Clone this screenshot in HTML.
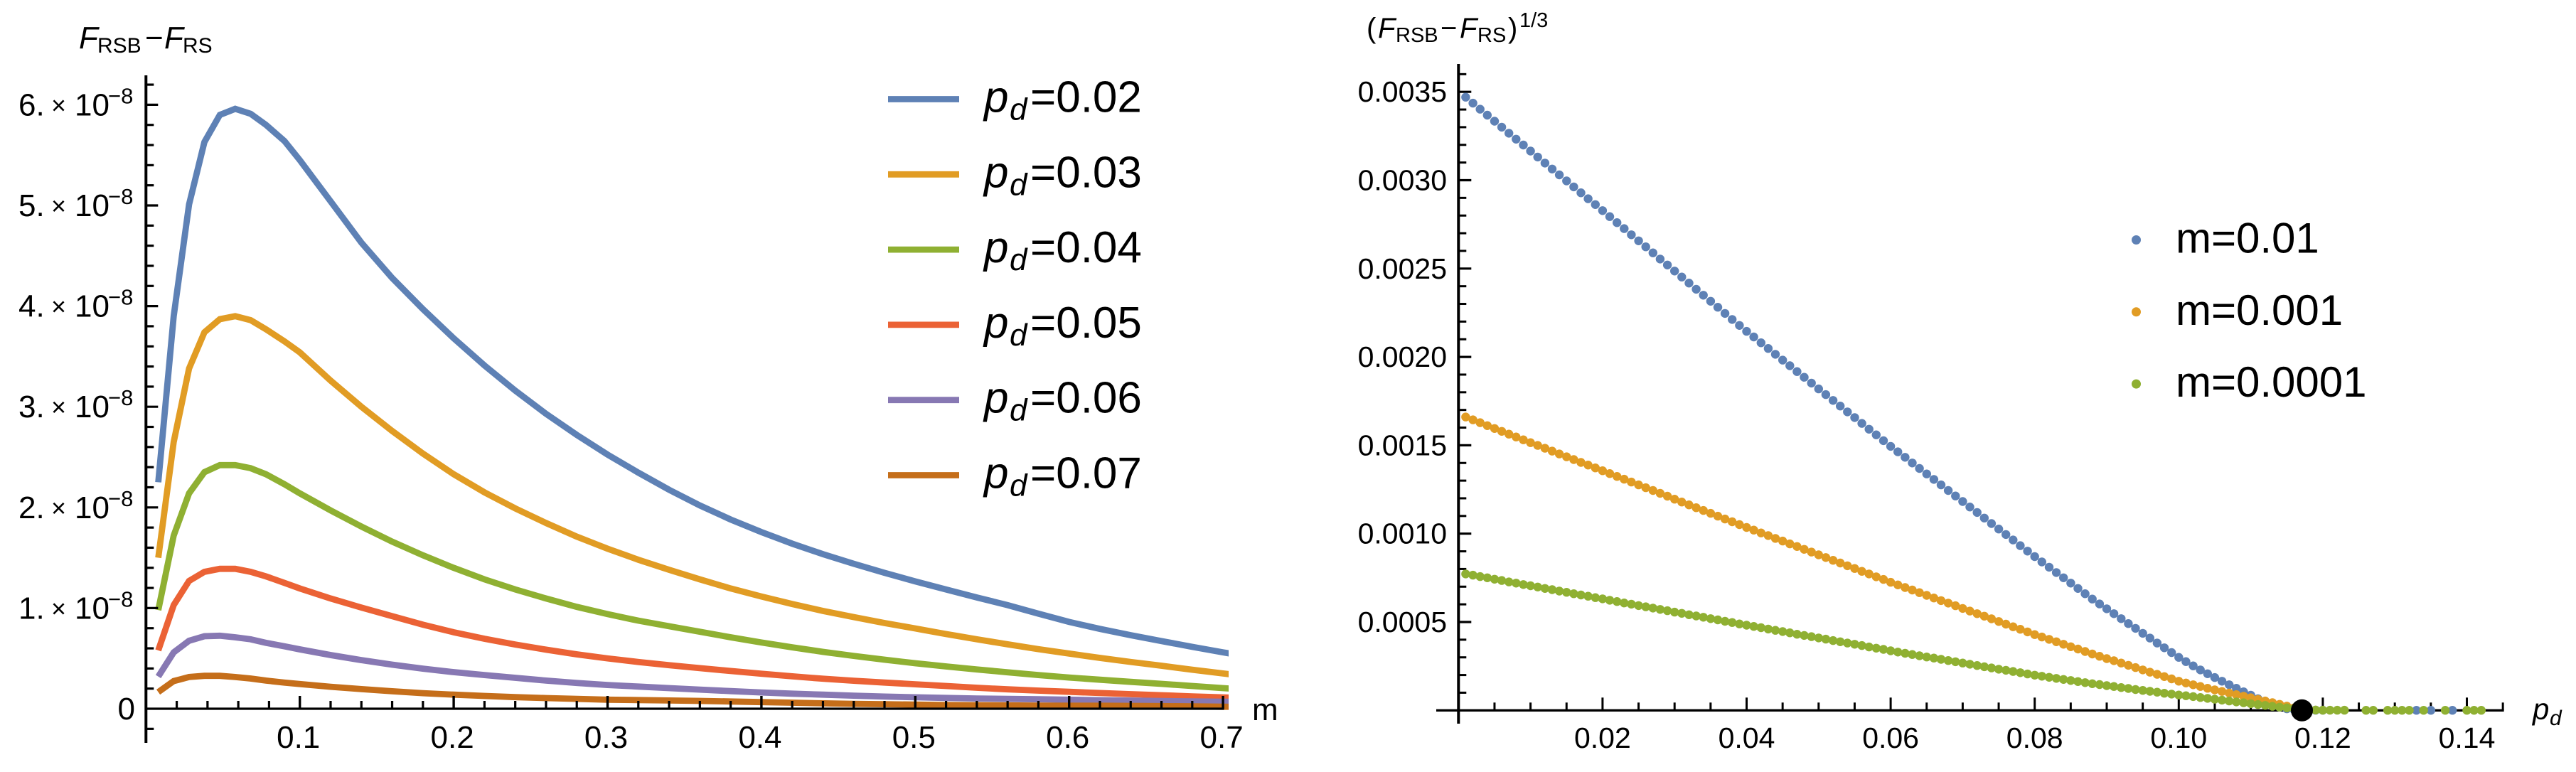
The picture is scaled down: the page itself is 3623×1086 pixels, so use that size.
<!DOCTYPE html>
<html lang="en">
<head>
<meta charset="utf-8">
<title>RSB free energy difference plots</title>
<style>
html,body{margin:0;padding:0;background:#fff;width:3623px;height:1086px;overflow:hidden}
svg{display:block;font-family:"Liberation Sans",Arial,sans-serif;fill:#000}
.it{font-style:italic}
</style>
</head>
<body>
<svg id="figure" xmlns="http://www.w3.org/2000/svg" width="3623" height="1086" viewBox="0 0 3623 1086">
  <defs><clipPath id="left-clip"><rect x="190" y="90" width="1538" height="960"/></clipPath></defs>
  <g id="left-chart">
    <g id="left-lines" clip-path="url(#left-clip)"></g>
    <g id="left-axes"></g>
    <text font-size="44"><tspan class="it" x="111" y="68">F</tspan><tspan font-size="30" x="137" y="74">RSB</tspan><tspan x="204" y="68">−</tspan><tspan class="it" x="231" y="68">F</tspan><tspan font-size="30" x="257" y="74">RS</tspan></text>
    <text font-size="44" x="1761" y="1013">m</text>
    <g id="left-legend"></g>
  </g>
  <g id="right-chart">
    <g id="right-axes"></g>
    <g id="right-points"></g>
    <text font-size="40"><tspan x="1922" y="53">(</tspan><tspan class="it" x="1938" y="53">F</tspan><tspan font-size="29" x="1963" y="59">RSB</tspan><tspan x="2026" y="53">−</tspan><tspan class="it" x="2053" y="53">F</tspan><tspan font-size="29" x="2078" y="59">RS</tspan><tspan x="2121" y="53">)</tspan><tspan font-size="29" x="2137" y="38">1/3</tspan></text>
    <text font-size="42"><tspan class="it" x="3562" y="1012">p</tspan><tspan class="it" font-size="30" x="3586" y="1020">d</tspan></text>
    <g id="right-legend"></g>
  </g>
</svg>
<script>
// ---------- left chart data ----------
const mValues = [0.008,0.018,0.028,0.038,0.048,0.058,0.068,0.078,0.09,0.1,0.12,0.14,0.16,0.18,0.2,0.22,0.24,0.26,0.28,0.3,0.32,0.34,0.36,0.38,0.4,0.42,0.44,0.46,0.48,0.5,0.52,0.54,0.56,0.58,0.6,0.62,0.64,0.66,0.68,0.7,0.72];
const seriesP02 = [2.25,3.9,5.01,5.63,5.9,5.96,5.91,5.8,5.64,5.45,5.04,4.63,4.28,3.97,3.68,3.41,3.16,2.93,2.72,2.525,2.345,2.175,2.02,1.88,1.755,1.64,1.535,1.44,1.35,1.265,1.185,1.105,1.03,0.945,0.862,0.793,0.73,0.672,0.615,0.56,0.51];
const seriesP03 = [1.5,2.65,3.38,3.74,3.87,3.9,3.86,3.77,3.65,3.54,3.26,3.0,2.76,2.535,2.33,2.15,1.99,1.845,1.71,1.59,1.48,1.38,1.285,1.195,1.115,1.04,0.972,0.91,0.852,0.797,0.742,0.69,0.64,0.592,0.548,0.505,0.465,0.427,0.388,0.35,0.315];
const seriesP04 = [0.98,1.72,2.14,2.35,2.42,2.42,2.39,2.33,2.23,2.14,1.97,1.81,1.66,1.525,1.4,1.285,1.185,1.095,1.012,0.94,0.875,0.82,0.765,0.71,0.658,0.61,0.565,0.525,0.487,0.452,0.42,0.39,0.362,0.335,0.31,0.288,0.267,0.247,0.226,0.205,0.185];
const seriesP05 = [0.58,1.03,1.27,1.36,1.39,1.39,1.36,1.315,1.25,1.195,1.095,1.005,0.92,0.835,0.76,0.695,0.638,0.587,0.54,0.5,0.465,0.433,0.403,0.375,0.348,0.322,0.298,0.278,0.26,0.243,0.226,0.208,0.193,0.18,0.168,0.156,0.145,0.134,0.123,0.113,0.1];
const seriesP06 = [0.32,0.56,0.675,0.72,0.725,0.71,0.69,0.655,0.62,0.59,0.533,0.483,0.438,0.398,0.364,0.335,0.307,0.28,0.256,0.236,0.22,0.205,0.19,0.175,0.162,0.15,0.14,0.13,0.121,0.114,0.107,0.102,0.098,0.094,0.09,0.085,0.081,0.077,0.073,0.07,0.066];
const seriesP07 = [0.165,0.275,0.315,0.327,0.327,0.315,0.3,0.28,0.26,0.245,0.218,0.195,0.174,0.155,0.14,0.127,0.115,0.106,0.098,0.09,0.086,0.082,0.078,0.072,0.066,0.06,0.054,0.049,0.045,0.041,0.037,0.035,0.033,0.031,0.03,0.03,0.028,0.026,0.023,0.02,0.018];
const lineSeries = [seriesP02,seriesP03,seriesP04,seriesP05,seriesP06,seriesP07];
const lineLabels = ['0.02','0.03','0.04','0.05','0.06','0.07'];
const lineColors = ['#5e81b5','#e19c24','#8fb032','#eb6235','#8778b3','#c56e1a'];
const leftXMajor = [0.1,0.2,0.3,0.4,0.5,0.6,0.7];
const leftXLabels = ['0.1','0.2','0.3','0.4','0.5','0.6','0.7'];
const leftXMinor = [0.02,0.04,0.06,0.08,0.12,0.14,0.16,0.18,0.22,0.24,0.26,0.28,0.32,0.34,0.36,0.38,0.42,0.44,0.46,0.48,0.52,0.54,0.56,0.58,0.62,0.64,0.66,0.68];
const leftYMajor = [1,2,3,4,5,6];
const leftYLabels = ['1.','2.','3.','4.','5.','6.'];
const leftYMinor = [-0.2,0.2,0.4,0.6,0.8,1.2,1.4,1.6,1.8,2.2,2.4,2.6,2.8,3.2,3.4,3.6,3.8,4.2,4.4,4.6,4.8,5.2,5.4,5.6,5.8,6.2];

// ---------- right chart data (values in units of 1e-6, pd in units of 0.001) ----------
const pdValues = [1,2,3,4,5,6,7,8,9,10,11,12,13,14,15,16,17,18,19,20,21,22,23,24,25,26,27,28,29,30,31,32,33,34,35,36,37,38,39,40,41,42,43,44,45,46,47,48,49,50,51,52,53,54,55,56,57,58,59,60,61,62,63,64,65,66,67,68,69,70,71,72,73,74,75,76,77,78,79,80,81,82,83,84,85,86,87,88,89,90,91,92,93,94,95,96,97,98,99,100,101,102,103,104,105,106,107,108,109,110,111,112,113,114,115,116,117,118,119,120,121,122,123,124,125,126,127,128,129,130,131,132,133,134,135,136,137,138,139,140,141,142];
const seriesM01 = [3470,3436,3402,3368,3334,3300,3266,3232,3199,3165,3131,3097,3063,3030,2996,2962,2929,2895,2862,2828,2794,2760,2726,2691,2657,2623,2589,2554,2520,2486,2452,2418,2383,2349,2315,2281,2246,2212,2178,2145,2113,2080,2048,2015,1982,1950,1917,1885,1852,1819,1787,1754,1722,1689,1657,1624,1591,1559,1526,1494,1463,1432,1400,1369,1338,1307,1276,1244,1213,1182,1151,1120,1088,1057,1026,995,964,932,901,870,840,810,780,750,720,690,660,630,602,575,547,519,491,464,436,409,381,354,327,300,276,252,229,207,186,165,145,125,105,86,66,47,31,18,9,4,2,1,1,1,null,null,null,null,null,null,null,null,null,null,null,null,0.5,null,0.5,null,null,0.5,null,null,null,null];
const seriesM001 = [1660,1644,1628,1611,1595,1579,1563,1547,1531,1515,1499,1483,1467,1451,1435,1419,1403,1388,1372,1356,1340,1324,1308,1292,1276,1260,1244,1228,1212,1195,1179,1163,1147,1131,1115,1099,1083,1067,1051,1035,1020,1004,989,973,958,942,927,911,896,880,865,849,834,818,803,787,772,756,741,725,710,695,681,666,651,636,621,607,592,577,562,547,533,518,503,488,473,459,444,429,415,402,388,374,360,347,333,319,306,293,281,268,255,242,229,216,204,191,178,165,155,145,135,125,116,107,98,89,80,71,62,53,44,34,24,14,6,null,null,null,null,null,null,null,null,null,null,null,null,null,null,null,null,null,null,null,null,null,null,null,null,null];
const seriesM0001 = [772,765,757,750,742,735,727,720,712,705,698,690,683,675,668,660,653,646,638,631,623,616,608,601,593,586,579,571,564,556,549,541,534,527,519,512,504,497,489,482,475,468,460,453,446,439,431,424,417,410,403,395,388,381,374,367,359,352,345,337,330,323,316,309,302,296,289,282,275,268,261,254,247,240,233,227,220,213,206,199,193,187,181,175,169,163,157,151,146,140,135,129,124,118,113,108,103,97,92,87,83,78,73,68,63,58,53,48,43,38,33,28,23,18,14,10,7,4,2,1,1,1,1,null,null,0.5,0.5,null,0.5,0.5,0.5,0.5,null,0.5,null,null,0.5,null,null,0.5,0.5,0.5];
const pointSeries = [seriesM01,seriesM001,seriesM0001];
const pointLabels = ['m=0.01','m=0.001','m=0.0001'];
const pointColors = ['#5e81b5','#e19c24','#8fb032'];
const criticalPd = 0.1171;
const criticalValue = 0;
const rightXMajor = [0.02,0.04,0.06,0.08,0.1,0.12,0.14];
const rightXLabels = ['0.02','0.04','0.06','0.08','0.10','0.12','0.14'];
const rightXMinor = [0.005,0.01,0.015,0.025,0.03,0.035,0.045,0.05,0.055,0.065,0.07,0.075,0.085,0.09,0.095,0.105,0.11,0.115,0.125,0.13,0.135,0.145];
const rightYMajor = [0.0005,0.001,0.0015,0.002,0.0025,0.003,0.0035];
const rightYLabels = ['0.0005','0.0010','0.0015','0.0020','0.0025','0.0030','0.0035'];
const rightYMinor = [0.0001,0.0002,0.0003,0.0004,0.0006,0.0007,0.0008,0.0009,0.0011,0.0012,0.0013,0.0014,0.0016,0.0017,0.0018,0.0019,0.0021,0.0022,0.0023,0.0024,0.0026,0.0027,0.0028,0.0029,0.0031,0.0032,0.0033,0.0034,0.0036];

// ---------- axis functions ----------
const xLeft = m => 205.3 + 2164 * m;
const yLeft = v => 997 - 141.6 * v;
const xRight = p => 2051.3 + 10130 * p;
const yRight = v => 999.3 - 248600 * v;

const NS = 'http://www.w3.org/2000/svg';
function make(tag, attrs, parent, txt) {
  const n = document.createElementNS(NS, tag);
  for (const k in attrs) n.setAttribute(k, attrs[k]);
  if (txt !== undefined) n.textContent = txt;
  parent.appendChild(n);
  return n;
}
const $ = id => document.getElementById(id);

// ---------- left lines ----------
lineSeries.forEach((vals, s) => {
  const pts = vals.map((v, i) => xLeft(mValues[i]).toFixed(1) + ',' + yLeft(v).toFixed(1)).join(' ');
  const line = make('polyline', {points: pts, fill: 'none', stroke: lineColors[s], 'stroke-width': 8.8, 'stroke-linejoin': 'miter', 'stroke-linecap': 'butt'}, $('left-lines'));
  
  
});

// ---------- left axes ----------
const leftAxes = $('left-axes');
const leftYAxis = make('line', {x1: xLeft(0), x2: xLeft(0), y1: 106, y2: 1045, stroke: '#000', 'stroke-width': 4}, leftAxes);


const leftXAxis = make('line', {x1: xLeft(0), x2: xLeft(0.7) + 1.5, y1: yLeft(0), y2: yLeft(0), stroke: '#000', 'stroke-width': 3.3}, leftAxes);


leftXMajor.forEach((v, i) => {
  const t = make('line', {x1: xLeft(v), x2: xLeft(v), y1: yLeft(0), y2: yLeft(0) - 18, stroke: '#000', 'stroke-width': 3.4}, leftAxes);
  
  
  const l = make('text', {x: xLeft(v) - 2, y: 1052, 'font-size': 44, 'text-anchor': 'middle'}, leftAxes, leftXLabels[i]);
  
  
});
leftXMinor.forEach(v => {
  const t = make('line', {x1: xLeft(v), x2: xLeft(v), y1: yLeft(0), y2: yLeft(0) - 11, stroke: '#000', 'stroke-width': 3.2}, leftAxes);
  
  
});
leftYMajor.forEach((v, i) => {
  const y = yLeft(v);
  const t = make('line', {x1: xLeft(0), x2: xLeft(0) + 17, y1: y, y2: y, stroke: '#000', 'stroke-width': 3.2}, leftAxes);
  
  
  const l = make('text', {'font-size': 44}, leftAxes);
  
  
  make('tspan', {x: 26, y: y + 15}, l, leftYLabels[i]);
  make('tspan', {x: 72, y: y + 13, 'font-size': 36}, l, '×');
  make('tspan', {x: 105, y: y + 15}, l, '10');
  make('tspan', {x: 152, y: y - 2, 'font-size': 31}, l, '−8');
});
leftYMinor.forEach(v => {
  const t = make('line', {x1: xLeft(0), x2: xLeft(0) + 11, y1: yLeft(v), y2: yLeft(v), stroke: '#000', 'stroke-width': 3.2}, leftAxes);
  
  
});
const leftZero = make('text', {x: 190, y: 1012, 'font-size': 44, 'text-anchor': 'end'}, leftAxes, '0');



// ---------- left legend ----------
lineLabels.forEach((lab, i) => {
  const ly = 139.5 + 105.8 * i;
  const g = make('g', {}, $('left-legend'));
  
  
  const sw = make('line', {x1: 1249, x2: 1349, y1: ly, y2: ly, stroke: lineColors[i], 'stroke-width': 8.8}, g);
  
  
  const t = make('text', {'font-size': 62}, g);
  
  
  make('tspan', {x: 1384, y: ly + 18, 'font-style': 'italic'}, t, 'p');
  make('tspan', {x: 1420, y: ly + 29, 'font-style': 'italic', 'font-size': 44}, t, 'd');
  make('tspan', {x: 1449, y: ly + 18}, t, '=' + lab);
});

// ---------- right axes ----------
const rightAxes = $('right-axes');
const rightYAxis = make('line', {x1: xRight(0), x2: xRight(0), y1: 90, y2: 1018, stroke: '#000', 'stroke-width': 4}, rightAxes);


const rightXAxis = make('line', {x1: 2020, x2: xRight(0.145) + 1.5, y1: yRight(0), y2: yRight(0), stroke: '#000', 'stroke-width': 3.3}, rightAxes);


rightXMajor.forEach((v, i) => {
  const t = make('line', {x1: xRight(v), x2: xRight(v), y1: yRight(0), y2: yRight(0) - 18, stroke: '#000', 'stroke-width': 3}, rightAxes);
  
  
  const l = make('text', {x: xRight(v), y: 1052, 'font-size': 41, 'text-anchor': 'middle'}, rightAxes, rightXLabels[i]);
  
  
});
rightXMinor.forEach(v => {
  const t = make('line', {x1: xRight(v), x2: xRight(v), y1: yRight(0), y2: yRight(0) - 11, stroke: '#000', 'stroke-width': 3}, rightAxes);
  
  
});
rightYMajor.forEach((v, i) => {
  const y = yRight(v);
  const t = make('line', {x1: xRight(0), x2: xRight(0) + 18, y1: y, y2: y, stroke: '#000', 'stroke-width': 3.2}, rightAxes);
  
  
  const l = make('text', {x: 2035, y: y + 14, 'font-size': 41, 'text-anchor': 'end'}, rightAxes, rightYLabels[i]);
  
  
});
rightYMinor.forEach(v => {
  const t = make('line', {x1: xRight(0), x2: xRight(0) + 11, y1: yRight(v), y2: yRight(v), stroke: '#000', 'stroke-width': 3}, rightAxes);
  
  
});

// ---------- right points ----------
pointSeries.forEach((vals, s) => {
  const g = make('g', {fill: pointColors[s]}, $('right-points'));
  
  
  vals.forEach((v, i) => {
    if (v === null) return;
    const c = make('circle', {cx: xRight(pdValues[i] / 1000).toFixed(1), cy: yRight(v * 1e-6).toFixed(1), r: 6.2}, g);
    
    
  });
});
const critical = make('circle', {cx: xRight(criticalPd), cy: yRight(criticalValue), r: 15.5, fill: '#000'}, $('right-points'));



// ---------- right legend ----------
pointLabels.forEach((lab, i) => {
  const ly = 337.5 + 101.3 * i;
  const g = make('g', {}, $('right-legend'));
  
  
  const d = make('circle', {cx: 3004.5, cy: ly, r: 6.5, fill: pointColors[i]}, g);
  
  
  const t = make('text', {x: 3060, y: ly + 18, 'font-size': 60}, g, lab);
  
  
});
</script>
</body>
</html>
